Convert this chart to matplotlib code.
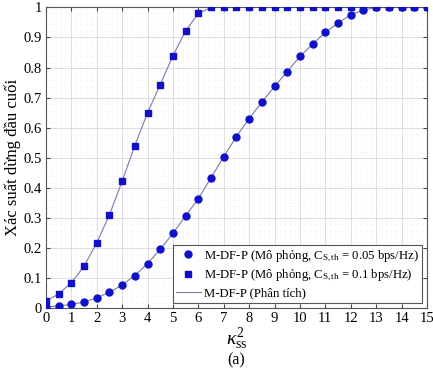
import matplotlib
matplotlib.use("Agg")
import matplotlib.pyplot as plt
from matplotlib.ticker import MultipleLocator

kappa = [0, 0.5, 1, 1.5, 2, 2.5, 3, 3.5, 4, 4.5, 5, 5.5, 6, 6.5, 7, 7.5, 8, 8.5,
         9, 9.5, 10, 10.5, 11, 11.5, 12, 12.5, 13, 13.5, 14, 14.5, 15]
p_005 = [0.003, 0.006, 0.011, 0.019, 0.033, 0.051, 0.076, 0.107, 0.147, 0.194,
         0.248, 0.306, 0.363, 0.433, 0.503, 0.570, 0.630, 0.684, 0.737, 0.786,
         0.837, 0.878, 0.917, 0.948, 0.976, 0.991, 1.0, 1.0, 1.0, 1.0, 1.0]
p_01 = [0.022, 0.046, 0.083, 0.138, 0.216, 0.309, 0.421, 0.540, 0.649, 0.743,
        0.839, 0.922, 0.980, 1.0, 1.0, 1.0, 1.0, 1.0, 1.0, 1.0, 1.0, 1.0, 1.0,
        1.0, 1.0, 1.0, 1.0, 1.0, 1.0, 1.0, 1.0]

labels = ["M-DF-P (Mô phỏng, C$_{\\mathrm{S,th}}$ = 0.05 bps/Hz)",
          "M-DF-P (Mô phỏng, C$_{\\mathrm{S,th}}$ = 0.1 bps/Hz)",
          "M-DF-P (Phân tích)"]

plt.rcParams['font.family'] = ['Liberation Serif', 'DejaVu Serif']
plt.rcParams['mathtext.fontset'] = 'custom'
plt.rcParams['mathtext.rm'] = 'Liberation Serif'
plt.rcParams['mathtext.it'] = 'Liberation Serif:italic'

fig = plt.figure(figsize=(4.33, 3.73), dpi=100)
ax = fig.add_axes([0.106, 0.175, 0.880, 0.805])

mcol = '#1010c8'
lcol = '#7a7aa8'

ax.plot(kappa, p_005, color=lcol, lw=0.8, zorder=2)
ax.plot(kappa, p_01, color=lcol, lw=0.8, zorder=2)
h1, = ax.plot(kappa, p_005, 'o', color=mcol, ms=5, ls='none', zorder=3)
h2, = ax.plot(kappa, p_01, 's', color=mcol, ms=4.5, ls='none', zorder=3)
h3, = ax.plot([], [], color=lcol, lw=0.8)

ax.set_xlim(0, 15)
ax.set_ylim(0, 1)
ax.xaxis.set_major_locator(MultipleLocator(1))
ax.xaxis.set_minor_locator(MultipleLocator(0.2))
ax.yaxis.set_minor_locator(MultipleLocator(0.02))
ax.set_yticks([i / 10 for i in range(11)])
ax.set_yticklabels(['0'] + ['%.1f' % (i / 10) for i in range(1, 10)] + ['1'])
ax.grid(which='major', color='#d8d8d8', lw=0.6)
ax.grid(which='minor', color='#ececec', lw=0.4, ls=':')
ax.tick_params(which='major', direction='in', top=True, right=True, length=3,
               labelsize=10.5, color='#444444', pad=3)
ax.tick_params(which='minor', length=0)
for s in ax.spines.values():
    s.set_color('#555555')
    s.set_linewidth(0.8)

ax.set_ylabel('Xác suất dừng đầu cuối', fontsize=12, labelpad=2)
ax.set_xlabel('$\\mathit{\\kappa}_{\\mathrm{ss}}^{2}$', fontsize=14, labelpad=1)
fig.text(0.545, 0.012, '(a)', ha='center', va='bottom', fontsize=11.5)

leg = ax.legend([h1, h2, h3], labels, loc='lower right', fontsize=9.2,
                frameon=True, fancybox=False, framealpha=1, edgecolor='#555555',
                borderpad=0.25, handlelength=1.9, handletextpad=0.25,
                labelspacing=0.35, borderaxespad=0,
                bbox_to_anchor=(0.987, 0.016))
leg.get_frame().set_linewidth(0.8)

fig.savefig('out.png', dpi=100)
